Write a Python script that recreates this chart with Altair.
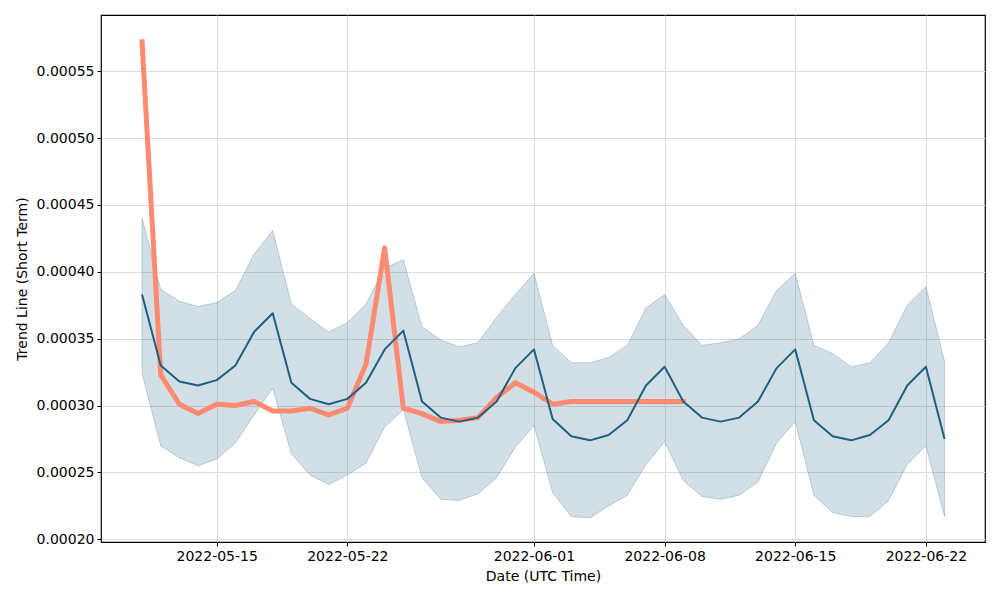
import altair as alt
import pandas as pd

start_date = "2022-05-11"
n_days = 44

mean_vals = [0.000383, 0.000330, 0.000318, 0.000315, 0.000319, 0.000330, 0.000355, 0.000369,
             0.000317, 0.000305, 0.000301, 0.000305, 0.000317, 0.000342,
             0.000356, 0.000303, 0.000291, 0.000288, 0.000291, 0.000303, 0.000328, 0.000342,
             0.000290, 0.000277, 0.000274, 0.000278, 0.000289, 0.000315, 0.000329, 0.000303,
             0.000291, 0.000288, 0.000291, 0.000303, 0.000328, 0.000342, 0.000289, 0.000277,
             0.000274, 0.000278, 0.000289, 0.000315, 0.000329, 0.000275]

upper_vals = [0.000440, 0.000387, 0.000378, 0.000374, 0.000377, 0.000386, 0.000413, 0.000431,
              0.000376, 0.000365, 0.000355, 0.000362, 0.000376, 0.000403,
              0.000409, 0.000359, 0.000349, 0.000344, 0.000347, 0.000366, 0.000383, 0.000399,
              0.000345, 0.000332, 0.000332, 0.000336, 0.000345, 0.000373, 0.000383, 0.000360,
              0.000345, 0.000347, 0.000350, 0.000360, 0.000386, 0.000399, 0.000345, 0.000339,
              0.000329, 0.000332, 0.000347, 0.000375, 0.000389, 0.000333]

lower_vals = [0.000324, 0.000270, 0.000261, 0.000255, 0.000260, 0.000272, 0.000293, 0.000313,
              0.000264, 0.000248, 0.000241, 0.000248, 0.000257, 0.000284,
              0.000297, 0.000246, 0.000230, 0.000229, 0.000234, 0.000246, 0.000269, 0.000285,
              0.000235, 0.000217, 0.000216, 0.000225, 0.000233, 0.000256, 0.000273, 0.000244,
              0.000232, 0.000230, 0.000233, 0.000243, 0.000272, 0.000288, 0.000233, 0.000220,
              0.000217, 0.000217, 0.000229, 0.000256, 0.000270, 0.000217]

actual_vals = [0.000572, 0.000323, 0.000301, 0.000294, 0.000301, 0.000300, 0.000303, 0.000296,
               0.000296, 0.000298, 0.000293, 0.000298, 0.000331, 0.000418,
               0.000298, 0.000294, 0.000288, 0.000289, 0.000291, 0.000306, 0.000317, 0.000310,
               0.000301, 0.000303, 0.000303, 0.000303, 0.000303, 0.000303, 0.000303, 0.000303]

x_tick_dates = ["2022-05-15", "2022-05-22", "2022-06-01", "2022-06-08", "2022-06-15", "2022-06-22"]
y_ticks = [0.00020, 0.00025, 0.00030, 0.00035, 0.00040, 0.00045, 0.00050, 0.00055]

dates = pd.date_range(start_date, periods=n_days, freq="D")
df = pd.DataFrame({
    "date": dates.strftime("%Y-%m-%dT00:00:00Z"),
    "mean": mean_vals,
    "upper": upper_vals,
    "lower": lower_vals,
})
df_act = pd.DataFrame({
    "date": dates[:len(actual_vals)].strftime("%Y-%m-%dT00:00:00Z"),
    "actual": actual_vals,
})


def dt(s, h=0, m=0):
    y, mo, d = [int(v) for v in s.split("-")]
    return alt.DateTime(year=y, month=mo, date=d, hours=h, minutes=m, utc=True)


x_scale = alt.Scale(type="utc", domain=[dt("2022-05-08", 19, 12), dt("2022-06-25", 4, 0)], nice=False)
y_scale = alt.Scale(domain=[0.000198, 0.000592], nice=False, zero=False)

FONT = "DejaVu Sans"
FS = 14
x_axis = alt.Axis(
    title="Date (UTC Time)", values=[dt(s) for s in x_tick_dates],
    labelExpr="utcFormat(datum.value, '%Y-%m-%d')",
    labelAngle=0, grid=True, gridColor="#dcdcdc", gridWidth=1,
    tickColor="black", tickSize=4, labelPadding=3, domain=False, labelColor="black",
    labelFont=FONT, labelFontSize=FS, titleFont=FONT, titleFontSize=FS,
    titleFontWeight="normal", titleColor="black", titlePadding=6,
)
y_axis = alt.Axis(
    title="Trend Line (Short Term)", values=y_ticks, format=".5f", grid=True,
    gridColor="#dcdcdc", gridWidth=1, tickColor="black", tickSize=4, labelPadding=3,
    domain=False, labelColor="black", labelFont=FONT, labelFontSize=FS, titleFont=FONT,
    titleFontSize=FS, titleFontWeight="normal", titleColor="black", titlePadding=7,
)

base = alt.Chart(df)
band = base.mark_area(
    color="#1f5f80", fillOpacity=0.2, stroke="#1f5f80", strokeOpacity=0.25, strokeWidth=1
).encode(
    x=alt.X("date:T", scale=x_scale, axis=x_axis),
    y=alt.Y("upper:Q", scale=y_scale, axis=y_axis),
    y2="lower:Q",
)
actual = alt.Chart(df_act).mark_line(
    color="#ff8a72", strokeWidth=5, strokeCap="square", strokeJoin="round"
).encode(
    x=alt.X("date:T", scale=x_scale),
    y=alt.Y("actual:Q", scale=y_scale),
)
mean_line = base.mark_line(color="#1f5f80", strokeWidth=2, strokeJoin="round").encode(
    x=alt.X("date:T", scale=x_scale),
    y=alt.Y("mean:Q", scale=y_scale),
)

chart = alt.layer(band, actual, mean_line).properties(
    width=884, height=527,
    autosize=alt.AutoSizeParams(type="none"),
    padding={"left": 93, "top": 7, "right": 7, "bottom": 50},
    background="white",
).configure_view(stroke="black", strokeWidth=1.2)

chart.save("out.html", embed_options={"renderer": "svg", "actions": False})
